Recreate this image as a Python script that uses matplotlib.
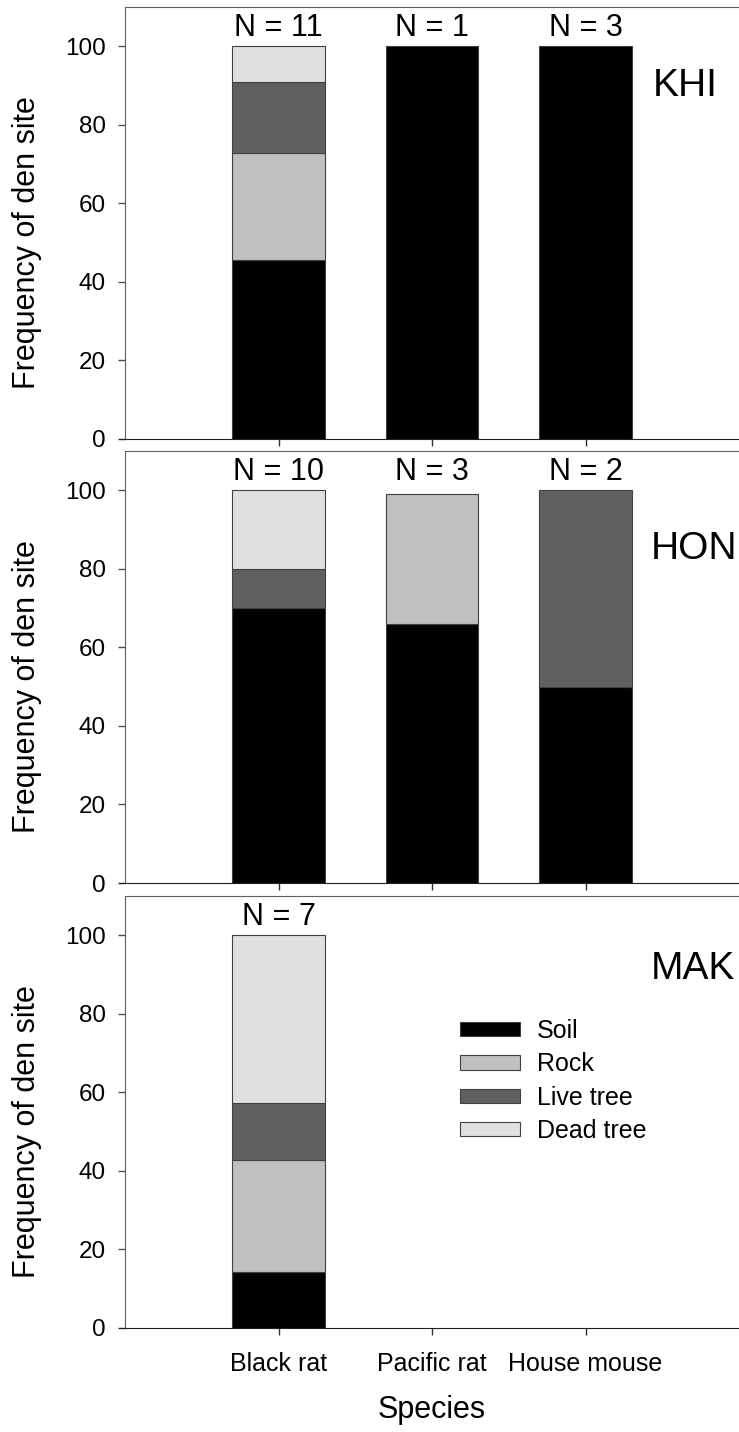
import matplotlib
matplotlib.use("Agg")
import matplotlib.pyplot as plt
import numpy as np

plt.rcParams['font.family'] = ['Liberation Sans', 'DejaVu Sans']

# Data (percent of den sites per species)
species = ['Black rat', 'Pacific rat', 'House mouse']
categories = ['Soil', 'Rock', 'Live tree', 'Dead tree']
colors = ['#000000', '#c0c0c0', '#606060', '#e0e0e0']

khi_soil = [45.5, 100, 100]
khi_rock = [27.3, 0, 0]
khi_live = [18.2, 0, 0]
khi_dead = [9.0, 0, 0]
khi_n = [11, 1, 3]

hon_soil = [70, 66, 50]
hon_rock = [0, 33, 0]
hon_live = [10, 0, 50]
hon_dead = [20, 0, 0]
hon_n = [10, 3, 2]

mak_soil = [14.3, 0, 0]
mak_rock = [28.6, 0, 0]
mak_live = [14.3, 0, 0]
mak_dead = [42.8, 0, 0]
mak_n = [7, None, None]

# name, stacks, N labels, label x (axes frac), label y (data)
panels = [
    ('KHI', [khi_soil, khi_rock, khi_live, khi_dead], khi_n, 0.966, 90),
    ('HON', [hon_soil, hon_rock, hon_live, hon_dead], hon_n, 0.997, 85),
    ('MAK', [mak_soil, mak_rock, mak_live, mak_dead], mak_n, 0.993, 91.5),
]

fig = plt.figure(figsize=(7.39, 14.32), dpi=100)
left, width = 125 / 739, 614 / 739
bottoms = [(1432 - 439) / 1432, (1432 - 883) / 1432, (1432 - 1328) / 1432]
height = 432 / 1432

x = np.arange(len(species))
for i, (name, stacks, ns, lx, ly) in enumerate(panels):
    ax = fig.add_axes([left, bottoms[i], width, height])
    base = np.zeros(len(species))
    for cat, vals, col in zip(categories, stacks, colors):
        vals = np.array(vals, dtype=float)
        keep = vals > 0
        ax.bar(x[keep], vals[keep], width=0.6, bottom=base[keep], color=col,
               edgecolor='#404040', linewidth=0.8, label=cat)
        base += vals

    # sample sizes above the bars
    for xi, n in zip(x, ns):
        if n is not None:
            ax.annotate(f'N = {n}', (xi, 100), xytext=(0, 2), textcoords='offset points',
                        ha='center', va='bottom', fontsize=22)

    ax.text(lx, ly, name, transform=ax.get_yaxis_transform(),
            ha='right', va='center', fontsize=28)

    ax.set_xlim(-1, 3)
    ax.set_ylim(0, 110)
    ax.set_yticks([0, 20, 40, 60, 80, 100])
    ax.set_xticks(x)
    ax.tick_params(axis='y', direction='out', length=5, width=1, color='#505050',
                   labelsize=17.5, pad=9)
    ax.tick_params(axis='x', direction='out', length=5, width=1, color='#303030',
                   labelsize=18, pad=12)
    ax.spines['right'].set_visible(False)
    ax.spines['left'].set_color('#606060')
    ax.spines['top'].set_color('#606060')
    ax.spines['bottom'].set_color('#202020')
    ax.spines['bottom'].set_bounds(-1.04, 3)
    ax.set_ylabel('Frequency of den site', fontsize=22, va='center')
    ax.yaxis.set_label_coords(-0.1596, 50 / 110)
    if i < 2:
        ax.set_xticklabels([])
    else:
        ax.set_xticklabels(species)
        ax.set_xlabel('Species', fontsize=22, labelpad=14)
        ax.legend(loc='upper left', bbox_to_anchor=(0.545, 0.715), frameon=False,
                  fontsize=18, handlelength=2.4, handleheight=0.5, labelspacing=0.37,
                  handletextpad=0.7, borderpad=0, borderaxespad=0)

fig.savefig('out.png', dpi=100)
